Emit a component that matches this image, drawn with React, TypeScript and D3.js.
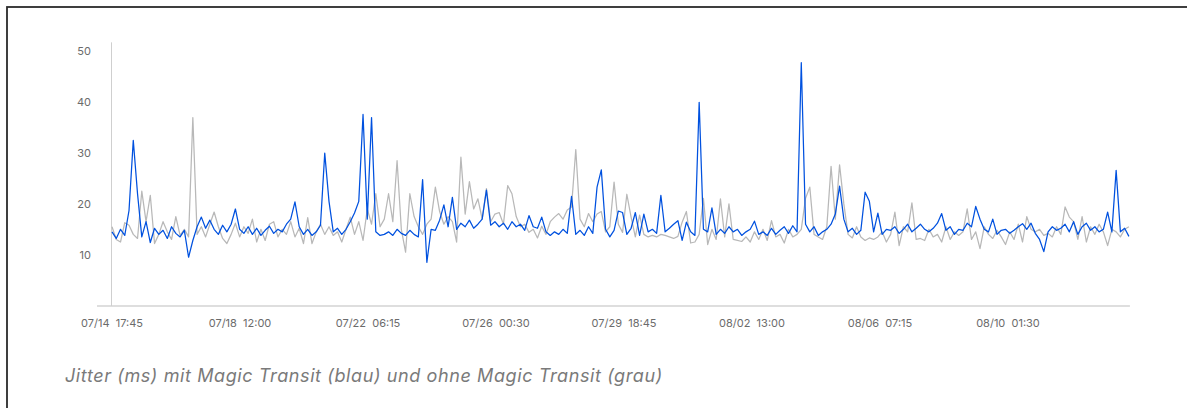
import React, { useEffect, useRef } from "react";
import * as d3 from "d3";

// Jitter (ms), one reading every 3 hours starting 07/14 17:45
const startTime = "07/14 17:45";
const stepHours = 3;

const blueValues = [
  14.5, 13.2, 15.0, 13.8, 18.7, 32.5, 22.0, 13.5, 16.5, 12.4,
  15.2, 14.0, 14.8, 13.2, 15.5, 14.2, 13.5, 14.8, 9.5, 12.8,
  15.5, 17.4, 15.2, 16.8, 15.0, 14.0, 15.8, 14.5, 16.0, 19.0,
  15.0, 14.2, 15.5, 14.0, 15.2, 13.8, 14.8, 15.6, 14.2, 15.0,
  14.5, 16.0, 17.0, 20.4, 15.5, 14.0, 15.0, 13.8, 14.5, 15.8,
  30.0, 20.5, 14.5, 15.2, 14.0, 15.0, 16.5, 18.2, 20.5, 37.6,
  17.0, 37.0, 14.5, 13.8, 14.0, 14.5, 13.8, 15.0, 14.2, 13.8,
  14.8, 14.0, 13.5, 24.8, 8.5, 15.0, 14.8, 16.8, 19.8, 15.5,
  21.3, 15.0, 16.2, 15.5, 16.8, 15.2, 16.0, 17.0, 22.7, 15.8,
  16.5, 15.5, 16.2, 15.0, 16.5, 15.5, 16.0, 14.8, 17.7, 15.5,
  15.2, 17.4, 14.5, 13.8, 14.5, 14.0, 15.0, 14.2, 21.5, 14.0,
  14.8, 13.8, 15.5, 14.2, 23.3, 26.7, 15.0, 13.5, 14.8, 18.6,
  18.3, 14.0, 15.2, 18.3, 13.8, 18.0, 14.5, 15.0, 14.2, 21.7,
  14.5, 15.2, 16.0, 16.7, 12.8, 16.4, 14.5, 13.8, 40.0, 15.0,
  14.5, 19.2, 14.0, 15.0, 14.2, 15.5, 14.5, 15.0, 13.8, 14.5,
  15.0, 16.6, 14.0, 14.5, 13.8, 15.2, 14.0, 14.8, 15.5, 14.2,
  15.7, 14.5, 47.8, 16.0, 14.5, 15.5, 13.8, 14.5, 15.0, 16.0,
  18.0, 23.5, 17.0, 14.5, 15.2, 14.0, 14.8, 22.3, 20.5, 14.5,
  18.2, 14.0, 15.0, 14.8, 15.5, 14.2, 15.0, 16.0, 14.5, 15.2,
  16.0, 15.0, 14.5, 15.2, 16.2, 18.1, 14.8, 15.5, 14.0, 15.0,
  14.8, 16.2, 15.5, 19.5, 17.0, 15.0, 14.5, 17.0, 14.0, 14.8,
  15.0, 14.2, 14.8, 15.5, 16.1, 15.0, 16.2, 14.2, 13.0, 10.6,
  14.5, 15.5, 14.8, 15.2, 16.0, 14.5, 16.5, 14.0, 15.5, 16.2,
  14.8, 15.5, 14.5, 15.0, 18.4, 14.5, 26.6, 14.5, 15.2, 13.6,
];

const grayValues = [
  15.5, 13.0, 12.5, 16.3, 15.8, 14.0, 13.2, 22.5, 16.5, 21.7,
  12.2, 14.0, 16.5, 14.5, 13.0, 17.5, 13.8, 15.0, 13.5, 37.0,
  14.0, 15.5, 13.5, 16.0, 18.4, 15.5, 13.2, 12.2, 14.0, 16.2,
  13.5, 15.5, 14.2, 17.0, 12.5, 15.0, 12.8, 16.0, 16.5, 13.5,
  15.0, 14.0, 16.5, 13.5, 15.2, 12.2, 17.3, 12.2, 14.5, 16.0,
  14.0, 15.5, 13.8, 14.5, 12.5, 15.0, 17.4, 14.0, 16.5, 12.8,
  19.0, 16.0, 22.0, 15.5, 17.0, 22.0, 16.5, 28.5, 15.0, 10.5,
  22.0, 17.5, 15.5, 14.0, 16.0, 17.0, 23.3, 18.5, 16.0, 17.5,
  16.5, 12.5, 29.2, 18.0, 24.4, 19.0, 21.0, 17.0, 23.0, 16.5,
  18.0, 18.3, 16.0, 23.6, 22.0, 17.5, 15.5, 16.0, 14.4, 15.0,
  13.3, 15.6, 14.0, 16.5, 17.4, 18.1, 17.0, 18.8, 19.4, 30.7,
  17.0, 15.5, 18.1, 16.5, 18.0, 18.5, 14.5, 15.5, 24.3, 16.0,
  14.4, 21.9, 17.4, 13.5, 17.8, 14.0, 13.5, 13.8, 13.5, 14.0,
  13.8, 13.5, 13.2, 13.6, 16.4, 18.5, 12.3, 12.5, 14.0, 21.1,
  12.0, 15.0, 13.0, 21.0, 13.5, 20.0, 13.0, 12.8, 12.6, 13.5,
  12.5, 14.5, 13.0, 15.0, 12.8, 16.7, 13.5, 14.0, 12.3, 15.0,
  13.5, 14.0, 15.0, 21.1, 23.3, 14.0, 13.5, 13.0, 15.5, 27.4,
  17.0, 27.7, 20.0, 14.0, 13.3, 15.5, 13.5, 12.8, 13.3, 13.0,
  13.5, 14.5, 12.5, 14.0, 18.4, 11.8, 15.5, 14.5, 20.2, 13.0,
  13.2, 12.8, 15.0, 13.5, 14.0, 12.5, 15.5, 13.0, 14.5, 13.8,
  14.5, 19.0, 13.0, 14.5, 11.2, 15.5, 14.0, 13.2, 14.8, 13.5,
  12.0, 14.5, 13.0, 16.0, 12.5, 17.5, 15.0, 14.5, 15.0, 13.8,
  14.2, 13.5, 15.5, 14.0, 19.4, 17.4, 16.5, 13.0, 17.5, 12.5,
  15.5, 14.0, 16.0, 14.5, 11.8, 15.0, 14.5, 13.5, 15.0, 15.5,
];

const xTickLabels = [
  "07/14 17:45",
  "07/18 12:00",
  "07/22 06:15",
  "07/26 00:30",
  "07/29 18:45",
  "08/02 13:00",
  "08/06 07:15",
  "08/10 01:30",
];
const yTicks = [10, 20, 30, 40, 50];

const title = "Jitter (ms) mit Magic Transit (blau) und ohne Magic Transit (grau)";

const W = 1187;
const H = 408;

export default function App() {
  const ref = useRef<SVGSVGElement>(null);

  useEffect(() => {
    const svg = d3.select(ref.current);
    svg.selectAll("*").remove();

    const parse = d3.timeParse("%Y/%m/%d %H:%M");
    const toDate = (s: string) => parse("2020/" + s) as Date;
    const t0 = toDate(startTime);
    const hour = 3600 * 1000;
    const tickDates = xTickLabels.map(toDate);

    // x: first tick sits on the y axis, 128px between ticks
    const x = d3
      .scaleTime()
      .domain([t0, tickDates[tickDates.length - 1]])
      .range([112, 112 + 128 * (tickDates.length - 1)]);
    const y = d3.scaleLinear().domain([0, 50]).range([305.5, 51.5]);

    const blue = blueValues.map((v, i) => ({ t: new Date(+t0 + i * stepHours * hour), v }));
    const gray = grayValues.map((v, i) => ({ t: new Date(+t0 + i * stepHours * hour), v }));
    const lastT = blue[blue.length - 1].t;

    // frame
    svg
      .append("rect")
      .attr("x", 7)
      .attr("y", 7)
      .attr("width", W)
      .attr("height", H)
      .attr("fill", "none")
      .attr("stroke", "#2b2b2b")
      .attr("stroke-width", 1.8);

    // axes
    svg
      .append("line")
      .attr("x1", 97)
      .attr("x2", x(lastT) + 1)
      .attr("y1", y(0) + 0.5)
      .attr("y2", y(0) + 0.5)
      .attr("stroke", "#bdbdbd");
    svg
      .append("line")
      .attr("x1", 111.5)
      .attr("x2", 111.5)
      .attr("y1", y(51.8))
      .attr("y2", y(0) + 0.5)
      .attr("stroke", "#cfcfcf");

    svg
      .append("g")
      .selectAll("text")
      .data(yTicks)
      .join("text")
      .attr("x", 91)
      .attr("y", (d) => y(d))
      .attr("dy", "0.35em")
      .attr("text-anchor", "end")
      .attr("font-family", "Inter, sans-serif")
      .attr("font-size", 11)
      .attr("fill", "#6b6b6b")
      .text((d) => d);

    svg
      .append("g")
      .selectAll("text")
      .data(xTickLabels)
      .join("text")
      .attr("x", (d) => x(toDate(d)))
      .attr("y", 327)
      .attr("text-anchor", "middle")
      .attr("font-family", "Inter, sans-serif")
      .attr("font-size", 11)
      .attr("fill", "#6b6b6b")
      .style("white-space", "pre")
      .text((d) => d.replace(" ", "  "));

    const line = d3
      .line<{ t: Date; v: number }>()
      .x((d) => x(d.t))
      .y((d) => y(d.v));

    svg
      .append("path")
      .datum(gray)
      .attr("d", line)
      .attr("fill", "none")
      .attr("stroke", "#b8b8b8")
      .attr("stroke-width", 1.25)
      .attr("stroke-linejoin", "round");

    svg
      .append("path")
      .datum(blue)
      .attr("d", line)
      .attr("fill", "none")
      .attr("stroke", "#0051df")
      .attr("stroke-width", 1.25)
      .attr("stroke-linejoin", "round");

    svg
      .append("text")
      .attr("x", 65)
      .attr("y", 382)
      .attr("font-family", "Inter, sans-serif")
      .attr("font-style", "italic")
      .attr("font-size", 18)
      .attr("letter-spacing", 0.6)
      .attr("fill", "#7a7a7a")
      .text(title);
  }, []);

  return (
    <div style={{ position: "absolute", left: 0, top: 0 }}>
      <svg ref={ref} width={W} height={H} style={{ display: "block", background: "#fff" }} />
    </div>
  );
}
